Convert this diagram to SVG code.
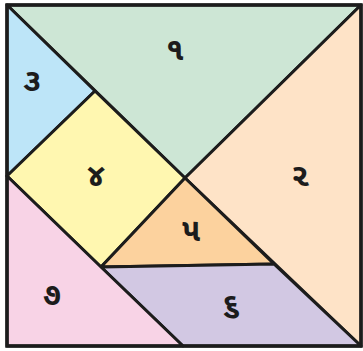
<svg xmlns="http://www.w3.org/2000/svg" width="363" height="351" viewBox="0 0 363 351">
<style>
.p{stroke:#1c1c1c;stroke-width:3;stroke-linejoin:round}
.t{font-family:"Noto Sans Gujarati","Noto Sans",sans-serif;font-size:32px;font-weight:bold;fill:#1c1c1c;text-anchor:middle;dominant-baseline:central}
</style>
<rect width="363" height="351" fill="#ffffff"/>
<g id="piece1"><polygon class="p" fill="#CDE6D5" points="7,5 361,5 185,178"/><text class="t" x="175" y="52">૧</text></g>
<g id="piece2"><polygon class="p" fill="#FEE3C7" points="361,5 361,346 185,178"/><text class="t" x="300" y="178">૨</text></g>
<g id="piece3"><polygon class="p" fill="#BDE5F8" points="7,5 95,91 7,176"/><text class="t" x="32" y="83">૩</text></g>
<g id="piece4"><polygon class="p" fill="#FFF7B0" points="95,91 185,178 101,267 7,176"/><text class="t" x="96" y="178">૪</text></g>
<g id="piece5"><polygon class="p" fill="#FCD29E" points="185,178 274,264 101,267"/><text class="t" x="191" y="233">૫</text></g>
<g id="piece6"><polygon class="p" fill="#D2C8E3" points="101,267 274,264 361,346 183,346"/><text class="t" x="231" y="307">૬</text></g>
<g id="piece7"><polygon class="p" fill="#F8D3E6" points="7,176 101,267 183,346 7,346"/><text class="t" x="52" y="297">૭</text></g>
<g id="connectors"></g>
<rect x="7" y="5" width="354" height="341" fill="none" stroke="#1c1c1c" stroke-width="3.5"/>
</svg>
